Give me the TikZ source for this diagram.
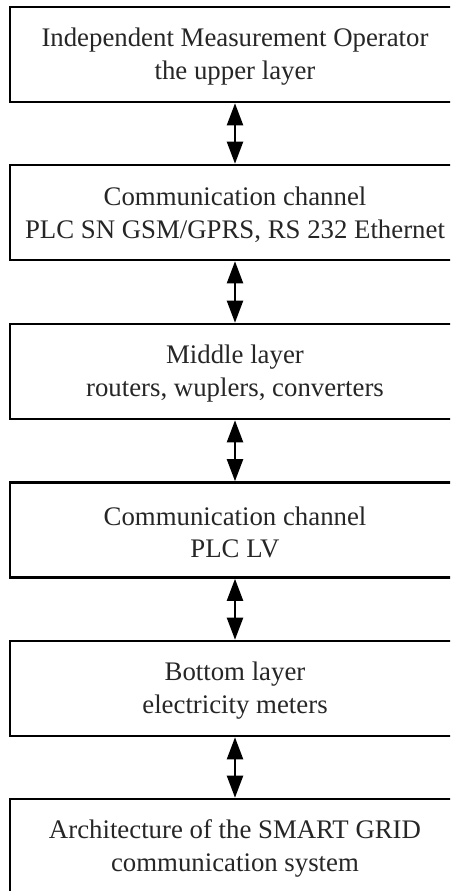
\documentclass[tikz,border=0pt]{standalone}
\usepackage{fontspec}
\setmainfont{Liberation Serif}
\usetikzlibrary{arrows.meta}
% a strut that lowers each two-line label slightly inside its box
\newcommand{\toppad}{\rule{0pt}{23pt}}
\tikzset{
  layerbox/.style={draw=black, line width=2.6pt, fill=white, rectangle,
    minimum width=450pt, minimum height=95pt, inner sep=0pt,
    align=center, text=black!85, font=\fontsize{26.8}{32.5}\selectfont},
  link/.style={line width=2.2pt, {Triangle[length=22pt,width=16pt]}-{Triangle[length=22pt,width=16pt]}}
}
\begin{document}
\begin{tikzpicture}[x=1pt,y=1pt]
  \useasboundingbox (0,0) rectangle (450,-891);
  \clip (0,0) rectangle (450,-891);
  \fill[white] (0,0) rectangle (450,-891);
  \node[layerbox] (ops) at (235,-54.5) {\toppad Independent Measurement Operator\\the upper layer};
  \node[layerbox] (ch1) at (235,-212.5) {\toppad Communication channel\\PLC SN GSM/GPRS, RS 232 Ethernet};
  \node[layerbox] (mid) at (235,-371.5) {\toppad Middle layer\\routers, wuplers, converters};
  \node[layerbox] (ch2) at (235,-530) {\toppad Communication channel\\PLC LV};
  \node[layerbox] (bot) at (235,-688.5) {\toppad Bottom layer\\electricity meters};
  \node[layerbox] (arch) at (235,-846.5) {\toppad Architecture of the SMART GRID\\communication system};
  \draw[link] (ops.south) -- (ch1.north);
  \draw[link] (ch1.south) -- (mid.north);
  \draw[link] (mid.south) -- (ch2.north);
  \draw[link] (ch2.south) -- (bot.north);
  \draw[link] (bot.south) -- (arch.north);
\end{tikzpicture}
\end{document}
